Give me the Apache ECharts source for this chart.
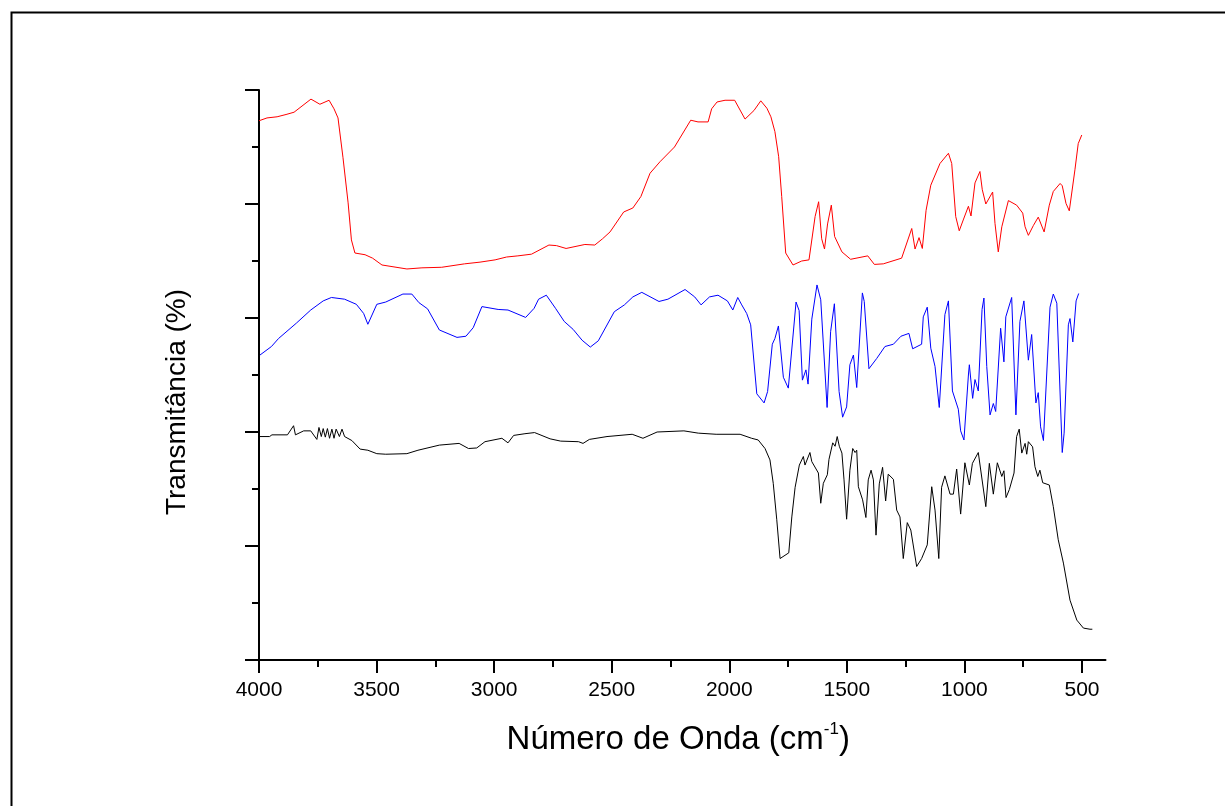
<!DOCTYPE html>
<html>
<head>
<meta charset="utf-8">
<script src="https://cdn.jsdelivr.net/npm/echarts@6/dist/echarts.min.js"></script>
<style>
html,body{margin:0;padding:0;background:#fff;}
#chart{width:1225px;height:806px;}
</style>
</head>
<body>
<div id="chart"></div>
<script>
// Wavenumber (cm-1) / transmittance (arbitrary %, offset traces)
const redSpectrum = [[4000,94.6],[3966,95.1],[3923,95.3],[3885,95.7],[3851,96.1],[3779,98.4],[3741,97.5],[3702,98.2],[3681,96.7],[3664,95.1],[3643,88.2],[3621,80.2],[3607,73.7],[3592,71.4],[3549,71.1],[3517,70.5],[3477,69.3],[3371,68.6],[3307,68.8],[3223,68.9],[3126,69.5],[3060,69.8],[2996,70.2],[2947,70.7],[2899,70.9],[2841,71.2],[2767,72.8],[2735,72.7],[2694,72.2],[2614,72.9],[2572,72.8],[2539,73.9],[2507,75.1],[2449,78.6],[2410,79.3],[2376,81.3],[2337,85.4],[2295,87.4],[2233,90],[2164,94.7],[2133,94.4],[2090,94.4],[2075,96.7],[2052,97.9],[2018,98.2],[1977,98.2],[1933,94.9],[1895,96.4],[1866,98.1],[1840,96.8],[1823,95.3],[1806,92.7],[1790,88.3],[1777,81.3],[1760,71.4],[1729,69.3],[1692,70],[1661,70.2],[1635,77.8],[1620,80.4],[1607,73.9],[1595,72.1],[1582,76.5],[1566,79.8],[1552,74.3],[1521,71.6],[1484,70.3],[1411,70.9],[1383,69.4],[1345,69.5],[1267,70.5],[1224,75.7],[1210,72.1],[1193,74.1],[1179,72.2],[1163,78.9],[1143,83.3],[1104,87.1],[1068,88.9],[1054,87.1],[1037,77.8],[1022,75.3],[1005,77.2],[983,79.6],[972,77.9],[955,83.7],[934,85.7],[924,82.5],[909,80],[880,82.1],[870,76.6],[856,71.6],[841,76],[813,80.6],[778,79.8],[752,78.4],[742,76],[728,74.5],[707,76.2],[686,77.7],[661,75.1],[653,75.3],[639,79.8],[622,82.2],[593,83.6],[584,83.2],[568,80.1],[554,78.8],[530,86],[516,90.6],[501,92.1]];

const blueSpectrum = [[3996,53.5],[3947,55],[3917,56.4],[3841,59.1],[3780,61.4],[3727,63],[3692,63.6],[3636,63.3],[3586,62.4],[3555,60.8],[3537,58.9],[3499,62.4],[3461,62.8],[3388,64.2],[3350,64.2],[3320,62.7],[3283,61.6],[3233,57.9],[3158,56.6],[3120,56.8],[3089,58.3],[3052,62],[2983,61.5],[2941,61.4],[2866,60.1],[2830,61.7],[2811,63.3],[2778,64],[2739,61.7],[2702,59.4],[2664,58],[2626,56.1],[2591,54.9],[2557,56],[2489,61.1],[2446,62.3],[2410,63.7],[2372,64.5],[2299,62.9],[2261,63.3],[2188,65],[2147,63.7],[2120,62.3],[2084,63.7],[2048,64],[2008,63],[1985,61.4],[1964,63.6],[1947,62.3],[1926,60.8],[1909,58.8],[1883,46.7],[1852,45.1],[1837,47.1],[1817,55.4],[1806,56.4],[1791,58.6],[1770,49.6],[1749,47.7],[1716,62.8],[1703,61.3],[1689,49.1],[1674,50.9],[1665,48.4],[1649,59.8],[1627,65.8],[1611,63.2],[1584,44.3],[1569,57.6],[1553,62.5],[1533,47.1],[1518,42.6],[1501,44.4],[1487,51.8],[1472,53.5],[1458,47.8],[1434,64.4],[1426,62.9],[1406,51.1],[1373,52.9],[1338,55],[1302,55.4],[1270,56.8],[1236,57.3],[1220,54.6],[1182,55.4],[1175,60.2],[1158,61.9],[1143,54.7],[1125,51.5],[1107,44.3],[1083,60.6],[1068,63],[1051,47.2],[1026,44],[1016,40.2],[1002,38.6],[983,50],[979,51.8],[965,45.9],[955,49.2],[941,47.2],[925,61.5],[917,63.5],[905,51.5],[891,43],[877,45],[867,43.6],[846,58.2],[832,52.3],[824,60.2],[799,63.6],[781,43],[764,59.4],[747,63],[728,52.6],[714,57.1],[696,45.1],[686,46.9],[676,40.9],[664,38.5],[636,61.9],[622,64.2],[607,62.6],[584,36.4],[576,39.8],[558,58.8],[551,59.9],[539,55.8],[525,63],[514,64.3]];

const blackSpectrum = [[4000,39.2],[3955,39.2],[3945,39.5],[3879,39.5],[3853,41.1],[3845,39.5],[3810,40.2],[3780,40.2],[3754,38.7],[3745,40.8],[3735,39.2],[3727,40.6],[3718,39.1],[3709,40.6],[3700,38.9],[3690,40.5],[3681,38.9],[3672,40.5],[3658,39.2],[3647,40.5],[3636,39.2],[3605,38.5],[3570,37],[3537,36.8],[3499,36.2],[3461,36.1],[3371,36.2],[3324,36.8],[3233,37.7],[3149,38],[3109,37.1],[3074,37.2],[3039,38.3],[2967,38.9],[2941,38.1],[2917,39.4],[2869,39.7],[2828,39.9],[2762,38.8],[2717,38.4],[2641,38.3],[2622,38],[2595,38.7],[2520,39.2],[2413,39.6],[2367,38.9],[2307,40],[2193,40.2],[2132,39.8],[2056,39.6],[1954,39.6],[1905,38.9],[1877,38.6],[1848,37.1],[1827,35.1],[1813,31],[1798,24.6],[1784,17.8],[1747,18.8],[1734,25.1],[1720,30.3],[1702,34.2],[1685,35.7],[1678,34.2],[1657,36.4],[1649,34.8],[1621,32.8],[1611,27.5],[1600,31],[1583,32.5],[1576,35.2],[1560,38.1],[1550,37.5],[1541,39.2],[1532,37.5],[1521,36.3],[1512,31.6],[1501,24.7],[1487,33.3],[1475,37.1],[1465,36.4],[1458,36.8],[1451,30.4],[1433,28.1],[1419,25],[1409,31.6],[1397,33.3],[1387,31.6],[1376,21.9],[1362,30.9],[1348,33.8],[1335,27.9],[1324,32.6],[1302,31.7],[1288,26.3],[1274,25.1],[1260,17.8],[1243,24.1],[1228,22.8],[1203,16.4],[1182,17.8],[1158,20.2],[1139,30.4],[1125,26.3],[1109,17.8],[1097,30.3],[1083,32.3],[1061,29.1],[1047,29.1],[1033,33.5],[1016,25.6],[998,34.6],[979,30.7],[966,34.5],[941,36.4],[909,26.9],[894,34.5],[877,29.1],[860,34.6],[841,32.2],[832,33.2],[823,28.5],[809,29.9],[789,32.8],[778,39.2],[767,40.5],[756,36.3],[742,38],[735,36.1],[728,38.3],[710,37.4],[700,33.9],[688,32.2],[679,33.3],[667,31.1],[639,30.7],[622,26.9],[601,21.1],[579,17],[551,10.5],[522,7],[494,5.6],[466,5.4],[456,5.4]];

const xMajorTicks = [4000,3500,3000,2500,2000,1500,1000,500];
const xMinorTicks = [3750,3250,2750,2250,1750,1250,750];
const xAxisTitle = 'Número de Onda (cm';
const xAxisTitleSup = '-1';
const yAxisTitle = 'Transmitância (%)';

const FONT = '"Liberation Sans", Arial, Helvetica, sans-serif';
const chart = echarts.init(document.getElementById('chart'), null, {renderer: 'canvas'});

const axisCommon = {
  type: 'value', min: 400, max: 4000, inverse: true, gridIndex: 0,
  splitLine: {show: false}
};

chart.setOption({
  animation: false,
  backgroundColor: '#fff',
  grid: {left: 259, top: 90, right: 119.5, bottom: 146, containLabel: false},
  graphic: [
    {type: 'rect', left: 9, top: 10, shape: {x: 0, y: 0, width: 1400, height: 1000},
     style: {fill: 'none', stroke: '#000', lineWidth: 2}, silent: true, z: 100},
    {type: 'text', x: 177, y: 402, rotation: Math.PI / 2,
     style: {text: yAxisTitle, font: '28px ' + FONT, fill: '#000', textAlign: 'center', textVerticalAlign: 'middle'}}
  ],
  xAxis: [
    Object.assign({}, axisCommon, {
      position: 'bottom',
      axisLine: {show: true, onZero: false, lineStyle: {color: '#000', width: 2}},
      axisTick: {show: true, customValues: xMajorTicks, length: 13, lineStyle: {color: '#000', width: 2}},
      axisLabel: {show: true, customValues: xMajorTicks, margin: 20, color: '#000', fontFamily: FONT, fontSize: 21,
                  formatter: function (v) { return String(v); }},
      name: '{t|' + xAxisTitle + '}{s|' + xAxisTitleSup + '}{t|)}',
      nameLocation: 'middle', nameGap: 61,
      nameTextStyle: {padding: [0, 8, 0, 0], rich: {
        t: {fontFamily: FONT, fontSize: 33, color: '#000', lineHeight: 38},
        s: {fontFamily: FONT, fontSize: 17, color: '#000', verticalAlign: 'top', lineHeight: 38}
      }}
    }),
    Object.assign({}, axisCommon, {
      position: 'bottom',
      axisLine: {show: false},
      axisTick: {show: true, customValues: xMinorTicks, length: 7, lineStyle: {color: '#000', width: 2}},
      axisLabel: {show: false}
    })
  ],
  yAxis: {
    type: 'value', min: 0, max: 100, interval: 20,
    axisLine: {show: true, onZero: false, lineStyle: {color: '#000', width: 2}},
    axisTick: {show: true, length: 14, lineStyle: {color: '#000', width: 2}},
    minorTick: {show: true, splitNumber: 2, length: 7, lineStyle: {color: '#000', width: 2}},
    axisLabel: {show: false},
    splitLine: {show: false}, minorSplitLine: {show: false}
  },
  series: [
    {type: 'line', data: redSpectrum, xAxisIndex: 0, showSymbol: false, symbol: 'none',
     lineStyle: {color: '#ff0000', width: 1}, z: 3},
    {type: 'line', data: blueSpectrum, xAxisIndex: 0, showSymbol: false, symbol: 'none',
     lineStyle: {color: '#0000ff', width: 1}, z: 3},
    {type: 'line', data: blackSpectrum, xAxisIndex: 0, showSymbol: false, symbol: 'none',
     lineStyle: {color: '#000000', width: 1}, z: 3}
  ]
});
</script>
</body>
</html>
